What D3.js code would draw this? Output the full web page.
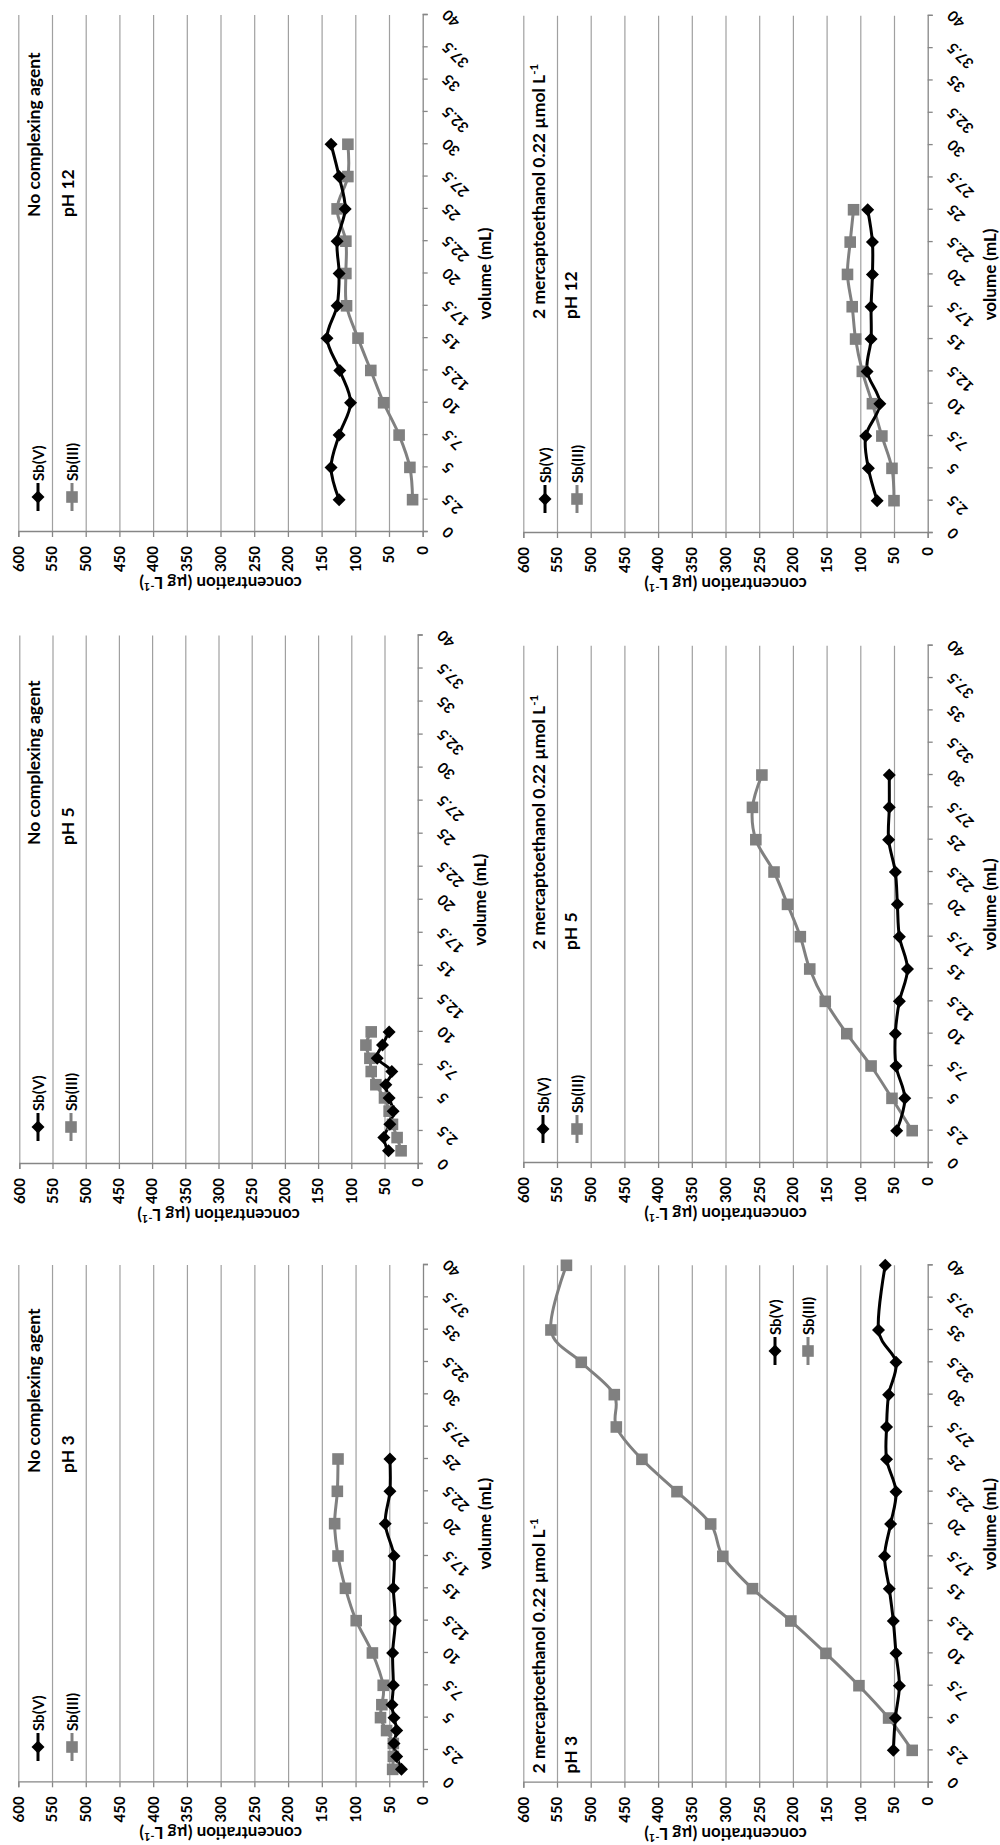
<!DOCTYPE html>
<html><head><meta charset="utf-8">
<script src="https://cdn.jsdelivr.net/npm/d3@7/dist/d3.min.js"></script>
<style>
html,body{margin:0;padding:0;background:#fff;}
svg{display:block;}
text{font-family:Lato,"Liberation Sans",sans-serif;font-weight:700;fill:#000;}
</style>
</head><body>
<svg id="c" width="1000" height="1845"></svg>
<script>
// ---- axis ticks ----
const volumeTicks = [0,2.5,5,7.5,10,12.5,15,17.5,20,22.5,25,27.5,30,32.5,35,37.5,40];
const concTicks = [0,50,100,150,200,250,300,350,400,450,500,550,600];
const seriesNames = ["Sb(V)","Sb(III)"];

// ---- No complexing agent, pH 3 ----
const vol_noCA_pH3   = [1,2,3,4,5,6,7.5,10,12.5,15,17.5,20,22.5,25];
const sbV_noCA_pH3   = [32,39,43,39,43,46,44,45,41,44,43,56,49,49];
const sbIII_noCA_pH3 = [45,44,44,54,63,61,59,75,99,115,126,131,127,126];

// ---- No complexing agent, pH 5 ----
const vol_noCA_pH5   = [1,2,3,4,5,6,7,8,9,10];
const sbV_noCA_pH5   = [44,51,42,37,43,48,39,61,53,43];
const sbIII_noCA_pH5 = [25,31,38,43,50,63,70,72,78,70];

// ---- No complexing agent, pH 12 ----
const vol_noCA_pH12   = [2.5,5,7.5,10,12.5,15,17.5,20,22.5,25,27.5,30];
const sbV_noCA_pH12   = [124,136,124,107,123,142,127,124,127,115,124,136];
const sbIII_noCA_pH12 = [15,19,35,58,77,96,113,114,114,127,111,111];

// ---- 2 mercaptoethanol, pH 3 ----
const vol_ME_pH3   = [2.5,5,7.5,10,12.5,15,17.5,20,22.5,25,27.5,30,32.5,35,40];
const sbV_ME_pH3   = [51,48,42,47,51,57,64,55,47,61,61,58,47,73,63];
const sbIII_ME_pH3 = [23,58,102,151,203,260,304,322,372,424,462,465,514,559,536];

// ---- 2 mercaptoethanol, pH 5 ----
const vol_ME_pH5   = [2.5,5,7.5,10,12.5,15,17.5,20,22.5,25,27.5,30];
const sbV_ME_pH5   = [46,34,47,48,42,30,42,45,48,58,57,57];
const sbIII_ME_pH5 = [23,53,84,120,152,175,189,208,228,255,260,246];

// ---- 2 mercaptoethanol, pH 12 ----
const vol_ME_pH12   = [2.5,5,7.5,10,12.5,15,17.5,20,22.5,25];
const sbV_ME_pH12   = [75,88,92,71,90,84,84,82,82,89];
const sbIII_ME_pH12 = [50,53,68,82,97,107,112,119,115,110];

const noCA = "No complexing agent";
const ME = "2 mercaptoethanol 0.22 µmol L";

// layout in the landscape frame (figure is then turned a quarter turn)
const panels = [
  {vol:vol_noCA_pH3, v:sbV_noCA_pH3, iii:sbIII_noCA_pH3, t1:noCA, sup:false, t2:"pH 3",
   box:{x0:62.7,x1:580,yT:18.3,yB:423}, ann:{x:372,y1:40,y2:73.5}, leg:{x:98,y1:38,y2:72}},
  {vol:vol_noCA_pH5, v:sbV_noCA_pH5, iii:sbIII_noCA_pH5, t1:noCA, sup:false, t2:"pH 5",
   box:{x0:681,x1:1209.5,yT:19.3,yB:417.7}, ann:{x:1000,y1:40,y2:73.5}, leg:{x:718,y1:38,y2:71}},
  {vol:vol_noCA_pH12, v:sbV_noCA_pH12, iii:sbIII_noCA_pH12, t1:noCA, sup:false, t2:"pH 12",
   box:{x0:1313,x1:1830,yT:18.3,yB:422.7}, ann:{x:1628,y1:40,y2:73.5}, leg:{x:1348,y1:38,y2:72}},
  {vol:vol_ME_pH3, v:sbV_ME_pH3, iii:sbIII_ME_pH3, t1:ME, sup:true, t2:"pH 3",
   box:{x0:62.3,x1:579.7,yT:523.3,yB:927.7}, ann:{x:71.5,y1:545,y2:577}, leg:{x:494,y1:775,y2:808}},
  {vol:vol_ME_pH5, v:sbV_ME_pH5, iii:sbIII_ME_pH5, t1:ME, sup:true, t2:"pH 5",
   box:{x0:682,x1:1199.3,yT:523.3,yB:927.7}, ann:{x:895,y1:545,y2:577}, leg:{x:716,y1:543,y2:577}},
  {vol:vol_ME_pH12, v:sbV_ME_pH12, iii:sbIII_ME_pH12, t1:ME, sup:true, t2:"pH 12",
   box:{x0:1312,x1:1829.2,yT:523.3,yB:927.7}, ann:{x:1526,y1:545,y2:577}, leg:{x:1346,y1:545,y2:577}}
];

const GRID = "#a0a0a0", AXIS = "#868686", GRAY = "#808080", BLACK = "#000";
const diamond = "M0,-6.5L6.5,0L0,6.5L-6.5,0Z";
const square = "M-5.8,-5.8H5.8V5.8H-5.8Z";

const svg = d3.select("#c");
const root = svg.append("g").attr("transform","translate(0,1845) rotate(-90)");

panels.forEach(p => {
  const b = p.box;
  const x = d3.scaleLinear().domain([0,40]).range([b.x0,b.x1]);
  const y = d3.scaleLinear().domain([0,600]).range([b.yB,b.yT]);
  const g = root.append("g");

  // gridlines
  const grid = g.append("g").attr("transform",`translate(${b.x0},0)`)
    .call(d3.axisLeft(y).tickValues(concTicks.filter(d=>d>0)).tickSize(-(b.x1-b.x0)).tickFormat(""));
  grid.select(".domain").remove();
  grid.selectAll("line").attr("stroke",GRID).attr("stroke-width",1.2);

  // y axis (concentration)
  const ya = g.append("g").attr("transform",`translate(${b.x0},0)`)
    .call(d3.axisLeft(y).tickValues(concTicks).tickSize(5).tickPadding(9));
  ya.attr("font-family",null).attr("font-size",null);
  ya.select(".domain").attr("stroke",AXIS).attr("stroke-width",1.3);
  ya.selectAll("line").attr("stroke",AXIS).attr("stroke-width",1.3);
  ya.selectAll("text").attr("font-size",15);

  // x axis (volume)
  const xa = g.append("g").attr("transform",`translate(0,${b.yB})`)
    .call(d3.axisBottom(x).tickValues(volumeTicks).tickSize(5).tickFormat(d=>String(d)));
  xa.attr("font-family",null).attr("font-size",null);
  xa.select(".domain").attr("stroke",AXIS).attr("stroke-width",1.3);
  xa.selectAll("line").attr("stroke",AXIS).attr("stroke-width",1.3);
  xa.selectAll("text")
    .attr("font-size",15).attr("y",null).attr("dy",null)
    .attr("text-anchor","end")
    .attr("transform","translate(6,26) rotate(-45)");

  // axis titles
  g.append("text").attr("transform",`translate(${b.x0-45},${(b.yT+b.yB)/2}) rotate(-90)`)
    .attr("text-anchor","middle").attr("font-size",17)
    .call(t=>{ t.append("tspan").text("concentration (µg L");
               t.append("tspan").attr("font-size",11).attr("dy",-6).text("-1");
               t.append("tspan").attr("dy",6).text(")"); });
  g.append("text").attr("x",(b.x0+b.x1)/2).attr("y",b.yB+68)
    .attr("text-anchor","middle").attr("font-size",17).text("volume (mL)");

  // series lines and markers
  const line = d3.line().curve(d3.curveCardinal.tension(0)).x(d=>x(d[0])).y(d=>y(d[1]));
  const sV = p.vol.map((v,i)=>[v,p.v[i]]);
  const sIII = p.vol.map((v,i)=>[v,p.iii[i]]);
  g.append("path").datum(sIII).attr("d",line).attr("fill","none").attr("stroke",GRAY).attr("stroke-width",3);
  g.append("path").datum(sV).attr("d",line).attr("fill","none").attr("stroke",BLACK).attr("stroke-width",3);
  g.selectAll(".mIII").data(sIII).join("path").attr("d",square).attr("fill",GRAY)
    .attr("transform",d=>`translate(${x(d[0])},${y(d[1])})`);
  g.selectAll(".mV").data(sV).join("path").attr("d",diamond).attr("fill",BLACK)
    .attr("transform",d=>`translate(${x(d[0])},${y(d[1])})`);

  // annotation
  const a1 = g.append("text").attr("x",p.ann.x).attr("y",p.ann.y1).attr("font-size",17.5);
  a1.append("tspan").text(p.t1);
  if (p.sup) { a1.append("tspan").attr("font-size",11.5).attr("dy",-7).text("-1"); }
  g.append("text").attr("x",p.ann.x).attr("y",p.ann.y2).attr("font-size",17.5).text(p.t2);

  // legend
  [[p.leg.y1,BLACK,diamond,seriesNames[0]],[p.leg.y2,GRAY,square,seriesNames[1]]].forEach(([ly,col,shape,name])=>{
    g.append("line").attr("x1",p.leg.x-14).attr("x2",p.leg.x+14).attr("y1",ly).attr("y2",ly)
      .attr("stroke",col).attr("stroke-width",3);
    g.append("path").attr("d",shape).attr("fill",col).attr("transform",`translate(${p.leg.x},${ly})`);
    g.append("text").attr("x",p.leg.x+16).attr("y",ly+5.5).attr("font-size",15).text(name);
  });
});
</script>
</body></html>
